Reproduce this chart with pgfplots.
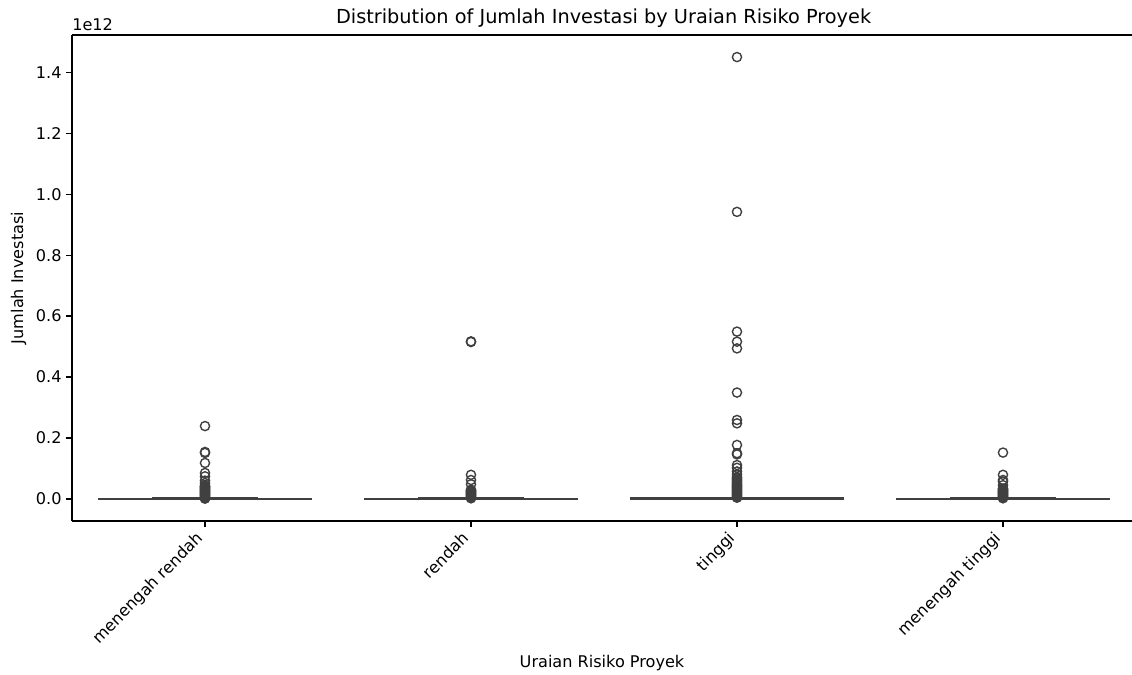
\documentclass[border=0pt]{standalone}
\usepackage{fontspec}
\setmainfont{DejaVu Sans}
\usepackage{pgfplots}
\pgfplotsset{compat=1.18}
\usepgfplotslibrary{statistics}

\definecolor{boxline}{RGB}{64,64,64}

% Flat boxes (all quartiles at zero) with their outliers, values in units of 1e12
\pgfplotsset{
  riskbox/.style={
    draw=boxline, line width=1.5pt, solid,
    mark=o, mark size=3.3pt,
    mark options={draw=boxline, line width=1pt, fill=none},
    boxplot/draw direction=y,
    boxplot/box extend=0.8,
    boxplot/whisker extend=0.4,
  },
}

\begin{document}
\begin{tikzpicture}
\begin{axis}[
  at={(0pt,0pt)}, anchor=south west,
  scale only axis,
  width=763.2pt, height=349.92pt,
  xmin=-0.5, xmax=3.485,
  ymin=-0.0725, ymax=1.5225,
  axis x line*=box, axis y line*=left,
  axis line style={black, line width=0.9pt},
  xtick={0,1,2,3},
  xticklabels={menengah rendah, rendah, tinggi, menengah tinggi},
  xtick pos=bottom, ytick pos=left,
  ytick={0,0.2,0.4,0.6,0.8,1.0,1.2,1.4},
  tick align=outside,
  major tick length=4pt,
  every tick/.style={black, line width=0.9pt},
  yticklabel style={/pgf/number format/.cd, fixed, fixed zerofill, precision=1, assume math mode=true},
  ticklabel style={font=\fontsize{11.6}{13.9}\selectfont},
  xticklabel style={xshift=-7pt, rotate=45, anchor=north east, inner sep=2pt},
  xlabel={Uraian Risiko Proyek},
  ylabel={Jumlah Investasi},
  label style={font=\fontsize{11.6}{13.9}\selectfont},
  clip=false,
]
% menengah rendah
\addplot[riskbox, boxplot prepared={draw position=0, lower whisker=0, lower quartile=0, median=0, upper quartile=0.001, upper whisker=0.002}]
  table[row sep=\\, y index=0] {v\\ 0.239\\ 0.154\\ 0.151\\ 0.118\\ 0.085\\ 0.074\\ 0.060\\ 0.052\\ 0.044\\ 0.042\\ 0.040\\ 0.038\\ 0.036\\ 0.034\\ 0.032\\ 0.030\\ 0.028\\ 0.026\\ 0.024\\ 0.022\\ 0.020\\ 0.018\\ 0.016\\ 0.014\\ 0.012\\ 0.010\\ 0.008\\ 0.006\\ 0.004\\ 0.002\\ 0.001\\};
% rendah
\addplot[riskbox, boxplot prepared={draw position=1, lower whisker=0, lower quartile=0, median=0, upper quartile=0.001, upper whisker=0.002}]
  table[row sep=\\, y index=0] {v\\ 0.517\\ 0.515\\ 0.079\\ 0.062\\ 0.048\\ 0.030\\ 0.028\\ 0.026\\ 0.024\\ 0.022\\ 0.020\\ 0.018\\ 0.016\\ 0.014\\ 0.012\\ 0.010\\ 0.008\\ 0.006\\ 0.004\\ 0.002\\};
% tinggi
\addplot[riskbox, boxplot prepared={draw position=2, lower whisker=0, lower quartile=0, median=0.001, upper quartile=0.002, upper whisker=0.004}]
  table[row sep=\\, y index=0] {v\\ 1.450\\ 0.942\\ 0.549\\ 0.516\\ 0.494\\ 0.349\\ 0.259\\ 0.248\\ 0.177\\ 0.150\\ 0.146\\ 0.111\\ 0.102\\ 0.090\\ 0.080\\ 0.072\\ 0.068\\ 0.064\\ 0.060\\ 0.056\\ 0.052\\ 0.048\\ 0.045\\ 0.042\\ 0.039\\ 0.036\\ 0.033\\ 0.030\\ 0.027\\ 0.024\\ 0.021\\ 0.018\\ 0.015\\ 0.012\\ 0.009\\ 0.006\\ 0.004\\};
% menengah tinggi
\addplot[riskbox, boxplot prepared={draw position=3, lower whisker=0, lower quartile=0, median=0, upper quartile=0.001, upper whisker=0.002}]
  table[row sep=\\, y index=0] {v\\ 0.152\\ 0.079\\ 0.062\\ 0.057\\ 0.045\\ 0.034\\ 0.032\\ 0.030\\ 0.028\\ 0.026\\ 0.024\\ 0.022\\ 0.020\\ 0.018\\ 0.016\\ 0.014\\ 0.012\\ 0.010\\ 0.008\\ 0.006\\ 0.004\\ 0.002\\};
\node[anchor=south west, inner sep=0pt, font=\fontsize{11.6}{13.9}\selectfont, yshift=3pt] at (rel axis cs:0,1) {1e12};
\node[anchor=base, inner sep=0pt, font=\fontsize{13.9}{16.7}\selectfont, yshift=8pt] at (rel axis cs:0.5015,1) {Distribution of Jumlah Investasi by Uraian Risiko Proyek};
\end{axis}
\pgfresetboundingbox
\path[use as bounding box] (-51.84pt,-110.88pt) rectangle (763.2pt,375.12pt);
\end{tikzpicture}
\end{document}
